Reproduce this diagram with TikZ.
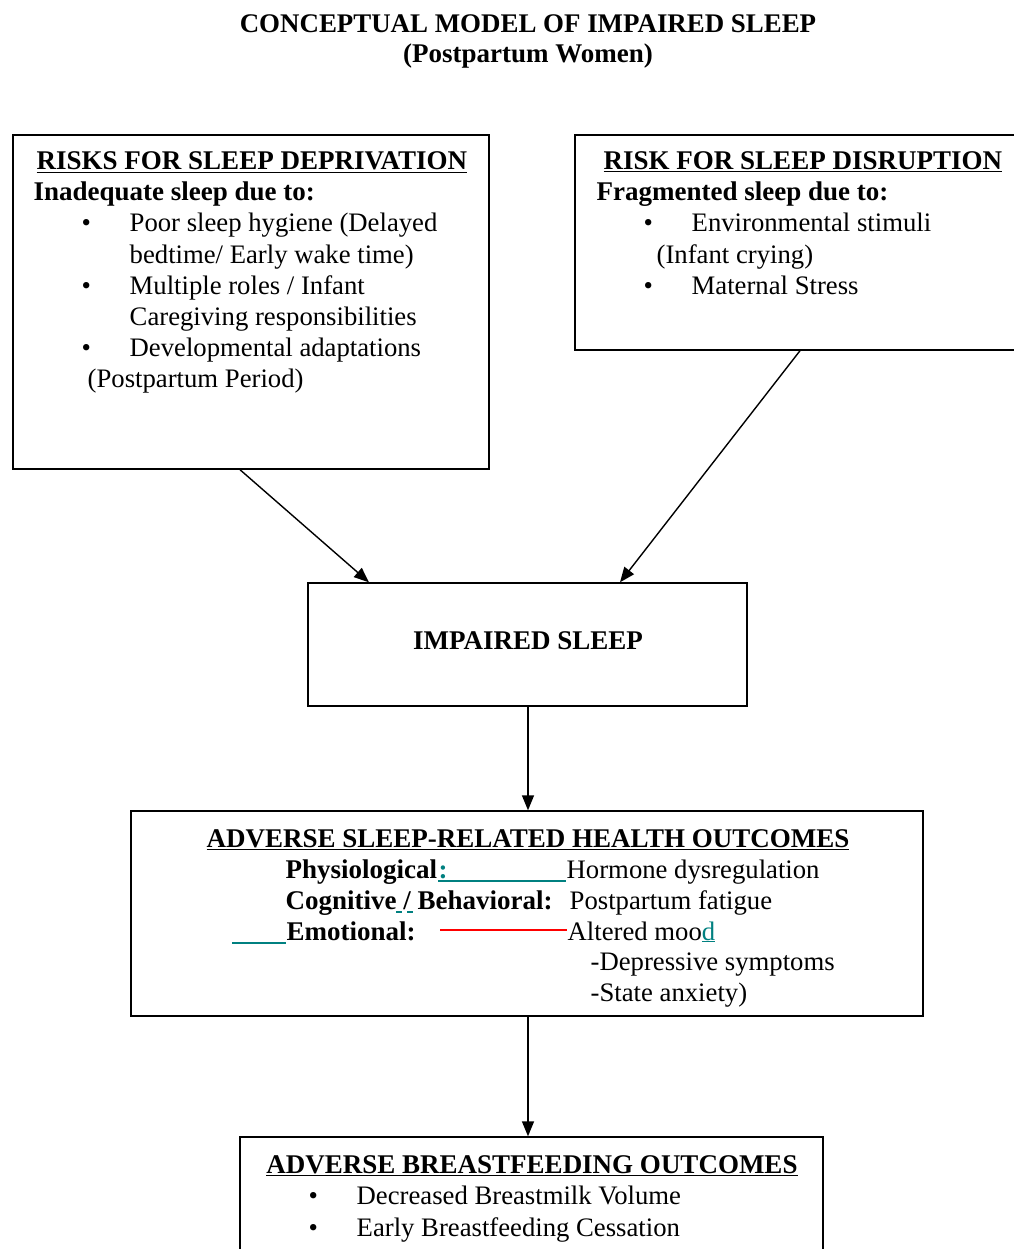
\documentclass[tikz,border=0pt]{standalone}
\usepackage{fontspec}
\setmainfont{Liberation Serif}
\usetikzlibrary{arrows.meta}

\begin{document}
\begin{tikzpicture}[x=1pt,y=-1pt,line width=1.4pt,
    box/.style={draw,rectangle,inner sep=0pt},
    txt/.style={anchor=base west,inner sep=0pt,font=\fontsize{26.7}{31}\selectfont},
    txtb/.style={txt,font=\fontsize{27}{31}\selectfont\bfseries},
    hd/.style={anchor=base,inner sep=0pt,font=\fontsize{27}{31}\selectfont\bfseries},
    link/.style={-{Triangle[length=15pt,width=12pt]}},
    uline/.style={line width=1.4pt}]
    \useasboundingbox (0,0) rectangle (1013,1249);

    % title
    \node[hd,font=\fontsize{26.9}{31}\selectfont\bfseries] (title) at (528,33) {CONCEPTUAL MODEL OF IMPAIRED SLEEP};
    \node[hd] (subtitle) at (528,63) {(Postpartum Women)};

    % boxes
    \node[box,minimum width=476pt,minimum height=334pt] (depr) at (251,302) {};
    \node[box,minimum width=455pt,minimum height=215pt] (disr) at (802.5,242.5) {};
    \node[box,minimum width=439pt,minimum height=123pt] (imp) at (527.5,644.5) {};
    \node[box,minimum width=792pt,minimum height=205pt] (adv) at (527,913.5) {};
    \node[box,minimum width=583pt,minimum height=125pt] (bf) at (531.5,1199.5) {};

    % sleep deprivation
    \node[txtb] (deprhd) at (36,170) {\underline{RISKS FOR SLEEP DEPRIVATION}};
    \node[txtb] (deprsub) at (33,201) {Inadequate sleep due to:};
    \foreach \y in {232,294,356} {
            \node[txt] (dbul\y) at (81,\y) {\textbullet};
        }
    \node[txt] (dA) at (129,232) {Poor sleep hygiene (Delayed};
    \node[txt] (dB) at (129,263) {bedtime/ Early wake time)};
    \node[txt] (dC) at (129,294) {Multiple roles / Infant};
    \node[txt] (dD) at (129,325) {Caregiving responsibilities};
    \node[txt] (dE) at (129,356) {Developmental adaptations};
    \node[txt] (dF) at (87,387) {(Postpartum Period)};

    % sleep disruption
    \node[txtb] (disrhd) at (603,170) {\underline{RISK FOR SLEEP DISRUPTION}};
    \node[txtb] (disrsub) at (596,201) {Fragmented sleep due to:};
    \foreach \y in {232,294} {
            \node[txt] (sbul\y) at (643,\y) {\textbullet};
        }
    \node[txt] (sA) at (691,232) {Environmental stimuli};
    \node[txt] (sB) at (656,263) {(Infant crying)};
    \node[txt] (sC) at (691,294) {Maternal Stress};

    % impaired sleep
    \node[hd] (imptxt) at (528,649) {IMPAIRED SLEEP};

    % health outcomes
    \node[hd] (advhd) at (528,847) {\underline{ADVERSE SLEEP-RELATED HEALTH OUTCOMES}};
    \node[txtb] (phys) at (285,878) {Physiological};
    \node[txtb,text=teal] (physcol) at (phys.base east) {:};
    \node[txt] (horm) at (566,878) {Hormone dysregulation};
    \node[txtb] (cog) at (285,909) {Cognitive / Behavioral:};
    \node[txt] (fatigue) at (569,909) {Postpartum fatigue};
    \node[txtb] (emo) at (286,940) {Emotional:};
    \node[txt] (mood) at (567,940) {Altered moo\textcolor{teal}{\underline{d}}};
    \node[txt] (depsym) at (590,970) {-Depressive symptoms};
    \node[txt] (anx) at (590,1001) {-State anxiety)};

    \draw[uline,teal] ([yshift=-3pt]physcol.base west) -- ([yshift=-3pt]horm.base west);
    \draw[uline,teal,dash pattern=on 6pt off 5pt] (396,912) -- (417,912);
    \draw[uline,teal] (232,943) -- ([yshift=-3pt]emo.base west);
    \draw[uline,red] (440,930) -- ([yshift=10pt]mood.base west);

    % breastfeeding outcomes
    \node[hd] (bfhd) at (532,1173) {\underline{ADVERSE BREASTFEEDING OUTCOMES}};
    \foreach \y in {1204,1236} {
            \node[txt] (bbul\y) at (308,\y) {\textbullet};
        }
    \node[txt] (bA) at (356,1204) {Decreased Breastmilk Volume};
    \node[txt] (bB) at (356,1236) {Early Breastfeeding Cessation};

    % arrows
    \draw[link] ([xshift=-11pt]depr.south) -- ([xshift=-158.5pt]imp.north);
    \draw[link] ([xshift=-2.5pt]disr.south) -- ([xshift=92.5pt]imp.north);
    \draw[link] ([xshift=0.5pt]imp.south) -- ([xshift=0.5pt]imp.south |- adv.north);
    \draw[link] ([xshift=1pt]adv.south) -- ([xshift=1pt]adv.south |- bf.north);
\end{tikzpicture}
\end{document}
